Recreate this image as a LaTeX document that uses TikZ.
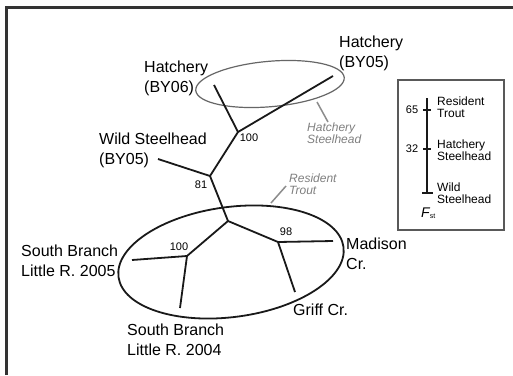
\documentclass[tikz,border=0pt]{standalone}
\usepackage{fontspec}
\setmainfont{Liberation Sans}
\begin{document}
\begin{tikzpicture}[x=1pt,y=-1pt,
  branch/.style={line width=1.8pt, black!90},
  lab/.style={font=\fontsize{16}{20}\selectfont, align=left, inner sep=0pt, anchor=west, text=black},
  boot/.style={font=\fontsize{11}{13}\selectfont, inner sep=0pt, text=black},
  grouplab/.style={font=\itshape\fontsize{12}{11.5}\selectfont, align=left, inner sep=0pt, anchor=west, text=black!50},
  pointer/.style={line width=1.5pt, black!45},
  leglab/.style={font=\fontsize{12}{12}\selectfont, align=left, inner sep=0pt, anchor=west, text=black},
  legnum/.style={font=\fontsize{11}{13}\selectfont, inner sep=0pt, text=black}]
\useasboundingbox (0,0) rectangle (513,375);
\fill[white] (0,0) rectangle (513,375);
% frame
\draw[line width=3pt, black!80] (6,375) -- (6,7) -- (513,7);

% group ellipses
\draw[line width=1.2pt, black!60, rotate around={5:(270,84)}] (270,84) ellipse [x radius=74.5pt, y radius=22.7pt];
\draw[line width=1.8pt, black!90, rotate around={7.6:(231,262)}] (231,262) ellipse [x radius=113.5pt, y radius=55pt];

% tree coordinates
\coordinate (tBY05) at (333,76);
\coordinate (tBY06) at (214,85);
\coordinate (j100) at (238,132);
\coordinate (j81) at (210,176);
\coordinate (tWild) at (158,159);
\coordinate (root) at (228,221);
\coordinate (jSB) at (187,256);
\coordinate (tSB05) at (132,260);
\coordinate (tSB04) at (180,308);
\coordinate (j98) at (278,242);
\coordinate (tMad) at (333,241);
\coordinate (tGriff) at (295,292);

\draw[branch] (j100) -- (tBY05);
\draw[branch] (j100) -- (tBY06);
\draw[branch] (j81) -- (j100);
\draw[branch] (j81) -- (tWild);
\draw[branch] (root) -- (j81);
\draw[branch] (root) -- (jSB);
\draw[branch] (jSB) -- (tSB05);
\draw[branch] (jSB) -- (tSB04);
\draw[branch] (root) -- (j98);
\draw[branch] (j98) -- (tMad);
\draw[branch] (j98) -- (tGriff);

% bootstrap values
\node[boot] (b100a) at (249,138) {100};
\node[boot] (b81) at (201,185) {81};
\node[boot] (b100b) at (179,247) {100};
\node[boot] (b98) at (286,232) {98};

% taxon labels
\node[lab] (lBY05) at (339,53) {Hatchery\\(BY05)};
\node[lab] (lBY06) at (144,78) {Hatchery\\(BY06)};
\node[lab] (lWild) at (99,150) {Wild Steelhead\\(BY05)};
\node[lab] (lSB05) at (21,261) {South Branch\\Little R. 2005};
\node[lab] (lSB04) at (127,340) {South Branch\\Little R. 2004};
\node[lab] (lMad) at (346,254) {Madison\\Cr.};
\node[lab] (lGriff) at (293,310) {Griff Cr.};

% group labels with pointers
\coordinate (pH1) at (317,102);
\coordinate (pH2) at (328,122);
\draw[pointer] (pH1) -- (pH2);
\node[grouplab] (gHatch) at (307,133) {Hatchery\\Steelhead};
\coordinate (pR1) at (271,203);
\coordinate (pR2) at (286,186);
\draw[pointer] (pR1) -- (pR2);
\node[grouplab] (gRes) at (289,184) {Resident\\Trout};

% legend
\draw[line width=1.2pt, black!65] (398,80) rectangle (504,230);
\coordinate (axTop) at (427,98);
\coordinate (axBot) at (427,193);
\draw[line width=1.4pt, black!90] (axTop) -- (axBot);
\coordinate (t65a) at (423,110); \coordinate (t65b) at (431,110);
\coordinate (t32a) at (423,149); \coordinate (t32b) at (431,149);
\coordinate (t0a) at (422,193); \coordinate (t0b) at (433,193);
\draw[line width=1.4pt, black!90] (t65a) -- (t65b);
\draw[line width=1.4pt, black!90] (t32a) -- (t32b);
\draw[line width=1.6pt, black!90] (t0a) -- (t0b);
\node[legnum] (n65) at (412,110) {65};
\node[legnum] (n32) at (412,149) {32};
\node[leglab] (lgRes) at (437,107) {Resident\\Trout};
\node[leglab] (lgHatch) at (437,150) {Hatchery\\Steelhead};
\node[leglab] (lgWild) at (437,193) {Wild\\Steelhead};
\node[inner sep=0pt, anchor=west, text=black] (fst) at (421,213) {{\fontsize{14}{14}\selectfont\itshape F}\textsubscript{st}};
\end{tikzpicture}
\end{document}
